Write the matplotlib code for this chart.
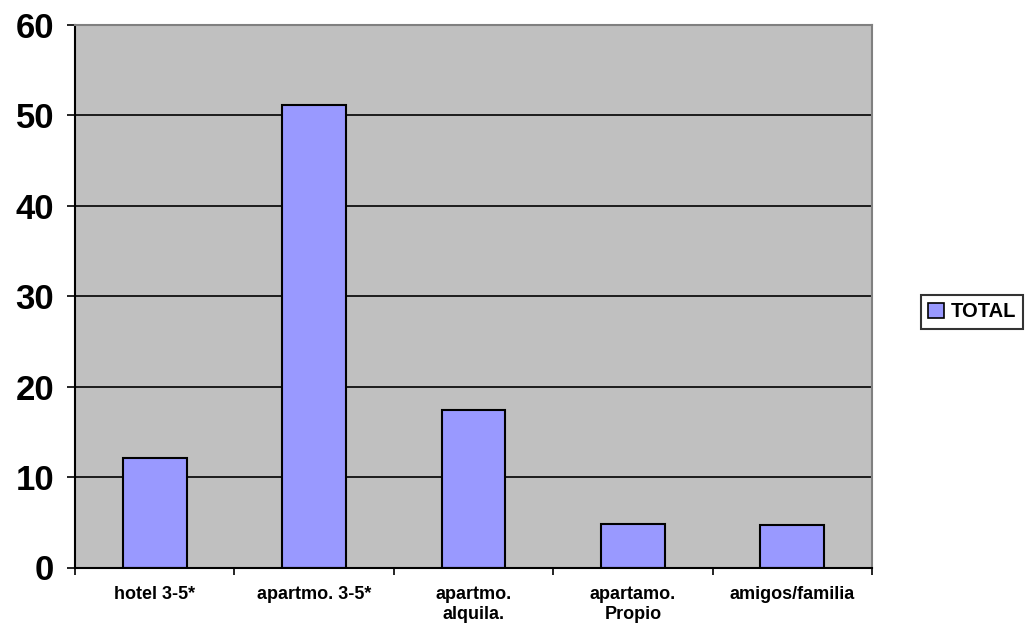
import matplotlib
matplotlib.use("Agg")
import matplotlib.pyplot as plt
import numpy as np
from matplotlib.patches import Patch

categories = ["hotel 3-5*", "apartmo. 3-5*", "apartmo.\nalquila.", "apartamo.\nPropio", "amigos/familia"]
values = [12.1, 51.1, 17.4, 4.8, 4.7]
series_name = "TOTAL"
yticks = [0, 10, 20, 30, 40, 50, 60]

plt.rcParams['font.family'] = ['Liberation Sans', 'DejaVu Sans']

fig = plt.figure(figsize=(10.33, 6.27), dpi=100)
ax = fig.add_axes([75/1033, 1-567.5/627, (872-75)/1033, (567.5-25)/627])
ax.set_facecolor('#C0C0C0')

x = np.arange(len(categories))
ax.bar(x, values, width=0.4, color='#9999FF', edgecolor='black', linewidth=1.5, zorder=3)

ax.set_xlim(-0.5, len(categories) - 0.5)
ax.set_ylim(0, 60)
ax.set_yticks(yticks)
ax.set_yticklabels([str(t) for t in yticks], fontsize=25, fontweight='bold')
ax.yaxis.grid(True, color='black', linewidth=1.2, zorder=1)
ax.set_axisbelow(True)

ax.set_xticks(x)
ax.set_xticklabels(categories, fontsize=13, fontweight='bold', linespacing=1.3)
ax.tick_params(axis='x', which='major', length=0, pad=13)
ax.set_xticks(np.arange(len(categories) + 1) - 0.5, minor=True)
ax.tick_params(axis='x', which='minor', length=5, width=1.2, color='black', direction='out')
ax.tick_params(axis='y', length=6, width=1.2, pad=9, direction='out')

for side in ['left', 'bottom']:
    ax.spines[side].set_color('black')
    ax.spines[side].set_linewidth(1.5)
for side in ['top', 'right']:
    ax.spines[side].set_color('#808080')
    ax.spines[side].set_linewidth(1.5)
ax.spines['bottom'].set_zorder(5)

handle = Patch(facecolor='#9999FF', edgecolor='black', linewidth=1.2)
leg = fig.legend([handle], [series_name], loc='center', bbox_to_anchor=(972/1033, 1-312/627),
                 frameon=True, fancybox=False, edgecolor='black', handlelength=0.8, handleheight=0.8,
                 handletextpad=0.3, borderpad=0.35, prop={'weight': 'bold', 'size': 14.5})
leg.get_frame().set_linewidth(1.5)

fig.savefig('out.png', dpi=100, facecolor='white')
